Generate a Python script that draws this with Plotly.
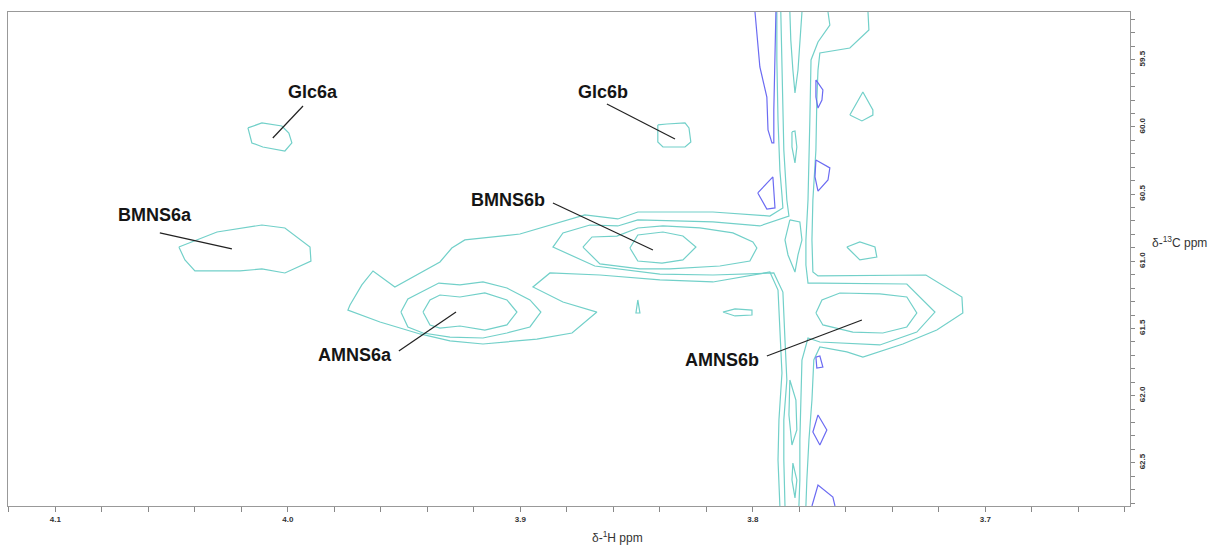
import plotly.graph_objects as go

CYAN = "#72d0c9"
BLUE = "#6b6bf2"

# ---- axis ticks ----
x_ticks = [4.1, 4.0, 3.9, 3.8, 3.7]
x_ticktext = ["4.1", "4.0", "3.9", "3.8", "3.7"]
y_ticks = [59.5, 60.0, 60.5, 61.0, 61.5, 62.0, 62.5]
y_ticktext = ["59.5", "60.0", "60.5", "61.0", "61.5", "62.0", "62.5"]
x_range = [4.1204, 3.6378]
y_range = [62.822, 59.144]

# ---- contour lines (ppm) ----
glc6a_x = [4.0172, 4.0112, 4.0026, 3.9996, 3.9983, 4.0013, 4.0108, 4.0155, 4.0172]
glc6a_y = [60.007, 59.970, 59.993, 60.045, 60.119, 60.179, 60.149, 60.119, 60.007]

glc6b_x = [3.8409, 3.8370, 3.8292, 3.8275, 3.8267, 3.8292, 3.8387, 3.8409, 3.8409]
glc6b_y = [59.985, 59.978, 59.970, 60.007, 60.112, 60.149, 60.149, 60.112, 59.985]

bmns6a_x = [4.0469, 4.0305, 4.0112, 4.0013, 3.9905, 3.9901, 4.0013, 4.0112, 4.0206, 4.0400, 4.0443, 4.0469]
bmns6a_y = [60.894, 60.782, 60.730, 60.752, 60.894, 60.998, 61.087, 61.057, 61.072, 61.072, 60.990, 60.894]

amns6a_in_x = [3.9419, 3.9389, 3.9346, 3.9260, 3.9153, 3.9058, 3.9015, 3.9058, 3.9153, 3.9260, 3.9346, 3.9389, 3.9419]
amns6a_in_y = [61.378, 61.288, 61.251, 61.266, 61.236, 61.288, 61.378, 61.474, 61.512, 61.482, 61.497, 61.474, 61.378]

amns6a_l2_x = [3.9514, 3.9484, 3.9351, 3.9260, 3.9161, 3.9058, 3.8959, 3.8912, 3.8959, 3.9058, 3.9161, 3.9303, 3.9419, 3.9484, 3.9514]
amns6a_l2_y = [61.378, 61.281, 61.162, 61.176, 61.154, 61.199, 61.288, 61.378, 61.489, 61.534, 61.571, 61.564, 61.534, 61.489, 61.378]

main_l1_x = [3.7897, 3.7897, 3.7892, 3.7884, 3.7875, 3.7871, 3.7927, 3.8000, 3.8172, 3.8495, 3.8581, 3.8723,
             3.9002, 3.9239, 3.9295, 3.9346, 3.9540, 3.9634, 3.9682, 3.9733, 3.9742, 3.9604, 3.9432, 3.9303,
             3.9161, 3.8929, 3.8778, 3.8671, 3.8817, 3.8946, 3.8873, 3.8658, 3.8400, 3.8172, 3.7927, 3.7892,
             3.7884, 3.7875, 3.7888, 3.7892, 3.7884]
main_l1_y = [59.144, 59.501, 59.948, 60.320, 60.506, 60.603, 60.663, 60.655, 60.633, 60.633, 60.685, 60.655,
             60.797, 60.841, 60.901, 61.005, 61.191, 61.072, 61.176, 61.325, 61.363, 61.452, 61.541, 61.593,
             61.616, 61.579, 61.534, 61.378, 61.303, 61.191, 61.087, 61.102, 61.139, 61.154, 61.080, 61.214,
             61.512, 61.832, 62.182, 62.480, 62.822]

main_l2_x = [3.7880, 3.7875, 3.7867, 3.7854, 3.7845, 3.7970, 3.8172, 3.8495, 3.8581, 3.8701, 3.8817, 3.8860,
             3.8680, 3.8400, 3.8172, 3.7910, 3.7871, 3.7862, 3.7854, 3.7867, 3.7867, 3.7862]
main_l2_y = [59.144, 59.650, 60.171, 60.544, 60.663, 60.737, 60.707, 60.692, 60.737, 60.730, 60.789, 60.894,
             61.035, 61.095, 61.102, 61.087, 61.229, 61.586, 61.884, 62.182, 62.480, 62.822]

bmns6b_l3_x = [3.8731, 3.8692, 3.8585, 3.8495, 3.8387, 3.8228, 3.8086, 3.8000, 3.7983, 3.8013, 3.8142, 3.8357, 3.8486, 3.8658, 3.8731]
bmns6b_l3_y = [60.894, 60.819, 60.812, 60.752, 60.737, 60.752, 60.789, 60.856, 60.901, 60.998, 61.035, 61.057, 61.057, 61.020, 60.894]

bmns6b_in_x = [3.8529, 3.8495, 3.8387, 3.8301, 3.8245, 3.8301, 3.8391, 3.8495, 3.8529]
bmns6b_in_y = [60.901, 60.804, 60.782, 60.812, 60.894, 60.990, 61.013, 60.998, 60.901]

right_l1_x = [3.7505, 3.7501, 3.7583, 3.7712, 3.7720, 3.7725, 3.7729, 3.7742, 3.7746, 3.7742, 3.7720, 3.7256,
              3.7101, 3.7097, 3.7209, 3.7355, 3.7527, 3.7596, 3.7712, 3.7738, 3.7746, 3.7759, 3.7768, 3.7772]
right_l1_y = [59.144, 59.278, 59.412, 59.449, 59.576, 59.799, 60.171, 60.544, 60.841, 61.080, 61.109, 61.102,
              61.266, 61.385, 61.512, 61.616, 61.713, 61.675, 61.638, 61.735, 62.033, 62.331, 62.628, 62.822]

right_l2_x = [3.7677, 3.7669, 3.7720, 3.7750, 3.7755, 3.7763, 3.7772, 3.7772, 3.7763, 3.7712, 3.7338, 3.7217,
              3.7295, 3.7454, 3.7712, 3.7763, 3.7789, 3.7794, 3.7798, 3.7798, 3.7802]
right_l2_y = [59.144, 59.241, 59.367, 59.501, 59.948, 60.544, 60.841, 61.028, 61.162, 61.162, 61.169, 61.378,
              61.527, 61.623, 61.601, 61.571, 61.735, 62.033, 62.331, 62.628, 62.822]

amns6b_in_x = [3.7729, 3.7703, 3.7626, 3.7454, 3.7338, 3.7295, 3.7338, 3.7441, 3.7570, 3.7699, 3.7729]
amns6b_in_y = [61.385, 61.288, 61.236, 61.243, 61.266, 61.385, 61.489, 61.534, 61.527, 61.474, 61.385]

streak_top_x = [3.7841, 3.7837, 3.7828, 3.7819, 3.7806, 3.7798, 3.7789]
streak_top_y = [59.144, 59.352, 59.576, 59.747, 59.576, 59.352, 59.144]

lens1_x = [3.7832, 3.7819, 3.7811, 3.7819, 3.7832, 3.7832]
lens1_y = [60.037, 60.030, 60.149, 60.268, 60.149, 60.037]

lens2_x = [3.7841, 3.7862, 3.7849, 3.7819, 3.7806, 3.7789, 3.7798, 3.7841]
lens2_y = [60.692, 60.841, 60.953, 61.080, 60.953, 60.841, 60.707, 60.692]

lens3_x = [3.7841, 3.7815, 3.7811, 3.7832, 3.7845, 3.7841]
lens3_y = [61.884, 62.033, 62.256, 62.368, 62.144, 61.884]

lens4_x = [3.7828, 3.7811, 3.7819, 3.7832, 3.7828]
lens4_y = [62.502, 62.628, 62.762, 62.628, 62.502]

isl1_x = [3.7596, 3.7540, 3.7475, 3.7467, 3.7540, 3.7596]
isl1_y = [60.894, 60.856, 60.894, 60.968, 60.990, 60.894]
isl2_x = [3.7583, 3.7527, 3.7484, 3.7484, 3.7531, 3.7583]
isl2_y = [59.911, 59.739, 59.873, 59.911, 59.955, 59.911]
isl3_x = [3.8495, 3.8486, 3.8503, 3.8495]
isl3_y = [61.288, 61.385, 61.385, 61.288]
isl4_x = [3.8129, 3.8077, 3.8004, 3.8004, 3.8077, 3.8129]
isl4_y = [61.378, 61.355, 61.363, 61.400, 61.407, 61.378]

neg1_x = [3.7991, 3.7970, 3.7940, 3.7935, 3.7918, 3.7910, 3.7910, 3.7905, 3.7901]
neg1_y = [59.144, 59.553, 59.777, 60.022, 60.119, 60.119, 59.873, 59.553, 59.144]
neg2_x = [3.7729, 3.7699, 3.7703, 3.7720, 3.7729, 3.7729]
neg2_y = [59.650, 59.724, 59.799, 59.859, 59.777, 59.650]
neg3_x = [3.7729, 3.7669, 3.7677, 3.7720, 3.7733, 3.7729]
neg3_y = [60.246, 60.305, 60.395, 60.477, 60.372, 60.246]
neg4_x = [3.7979, 3.7914, 3.7905, 3.7940, 3.7979]
neg4_y = [60.491, 60.372, 60.603, 60.611, 60.491]
neg5_x = [3.7729, 3.7712, 3.7699, 3.7725, 3.7729]
neg5_y = [61.713, 61.705, 61.787, 61.795, 61.713]
neg6_x = [3.7720, 3.7682, 3.7712, 3.7742, 3.7720]
neg6_y = [62.144, 62.256, 62.368, 62.271, 62.144]
neg7_x = [3.7746, 3.7720, 3.7656, 3.7647]
neg7_y = [62.822, 62.666, 62.755, 62.822]

# ---- peak labels ----
label_text = ["Glc6a", "Glc6b", "BMNS6a", "BMNS6b", "AMNS6a", "AMNS6b"]
label_x = [3.9892, 3.8645, 4.0572, 3.9054, 3.9712, 3.8133]
label_y = [59.739, 59.739, 60.655, 60.544, 61.698, 61.735]
leader_x0 = [3.9935, 3.8628, 4.0551, 3.8860, 3.9523, 3.7940]
leader_y0 = [59.844, 59.829, 60.789, 60.566, 61.668, 61.705]
leader_x1 = [4.0065, 3.8335, 4.0241, 3.8430, 3.9277, 3.7531]
leader_y1 = [60.082, 60.089, 60.908, 60.916, 61.378, 61.437]

positive = [
    (glc6a_x, glc6a_y), (glc6b_x, glc6b_y), (bmns6a_x, bmns6a_y),
    (amns6a_in_x, amns6a_in_y), (amns6a_l2_x, amns6a_l2_y),
    (main_l1_x, main_l1_y), (main_l2_x, main_l2_y),
    (bmns6b_l3_x, bmns6b_l3_y), (bmns6b_in_x, bmns6b_in_y),
    (right_l1_x, right_l1_y), (right_l2_x, right_l2_y), (amns6b_in_x, amns6b_in_y),
    (streak_top_x, streak_top_y), (lens1_x, lens1_y), (lens2_x, lens2_y),
    (lens3_x, lens3_y), (lens4_x, lens4_y),
    (isl1_x, isl1_y), (isl2_x, isl2_y), (isl3_x, isl3_y), (isl4_x, isl4_y),
]
negative = [
    (neg1_x, neg1_y), (neg2_x, neg2_y), (neg3_x, neg3_y), (neg4_x, neg4_y),
    (neg5_x, neg5_y), (neg6_x, neg6_y), (neg7_x, neg7_y),
]

fig = go.Figure()
for xs, ys in positive:
    fig.add_trace(go.Scatter(x=xs, y=ys, mode="lines", line=dict(color=CYAN, width=1.2),
                             hoverinfo="skip", showlegend=False))
for xs, ys in negative:
    fig.add_trace(go.Scatter(x=xs, y=ys, mode="lines", line=dict(color=BLUE, width=1.2),
                             hoverinfo="skip", showlegend=False))

for t, lx, ly in zip(label_text, label_x, label_y):
    fig.add_annotation(x=lx, y=ly, xref="x", yref="y", text=t, showarrow=False,
                       font=dict(family="Liberation Sans, Arial", size=18, color="#151515", weight="bold"),
                       xanchor="center", yanchor="middle")
for a, b, c, d in zip(leader_x0, leader_y0, leader_x1, leader_y1):
    fig.add_shape(type="line", x0=a, y0=b, x1=c, y1=d, xref="x", yref="y",
                  line=dict(color="#222222", width=1.2))

fig.add_annotation(x=0.5428, y=-0.063, xref="paper", yref="paper", text="δ-<sup>1</sup>H ppm",
                   showarrow=False, font=dict(family="Liberation Sans, Arial", size=12, color="#333333"),
                   xanchor="center", yanchor="middle")
fig.add_annotation(x=1.0178, y=0.5344, xref="paper", yref="paper", text="δ-<sup>13</sup>C ppm",
                   showarrow=False, font=dict(family="Liberation Sans, Arial", size=12, color="#333333"),
                   xanchor="left", yanchor="middle")

axis_font = dict(family="Liberation Sans, Arial", size=8, color="#333333", weight="bold")
fig.update_xaxes(range=x_range, tickvals=x_ticks, ticktext=x_ticktext, ticks="outside", ticklen=5,
                 tickcolor="#888888", showline=True, linecolor="#999999", linewidth=1, mirror=True,
                 showgrid=False, zeroline=False, tickfont=axis_font,
                 minor=dict(dtick=0.02, tick0=4.0, ticks="outside", ticklen=5, tickcolor="#888888"))
fig.update_yaxes(range=y_range, tickvals=y_ticks, ticktext=y_ticktext, side="right", ticks="outside",
                 ticklen=4, tickcolor="#888888", showline=True, linecolor="#999999", linewidth=1, mirror=True,
                 showgrid=False, zeroline=False, tickfont=axis_font, tickangle=-90,
                 minor=dict(dtick=0.1, tick0=60.0, ticks="outside", ticklen=4, tickcolor="#888888"))
fig.update_layout(width=1215, height=546, margin=dict(l=8, r=85, t=12, b=40),
                  plot_bgcolor="white", paper_bgcolor="white", showlegend=False)

fig.write_html("out.html")
